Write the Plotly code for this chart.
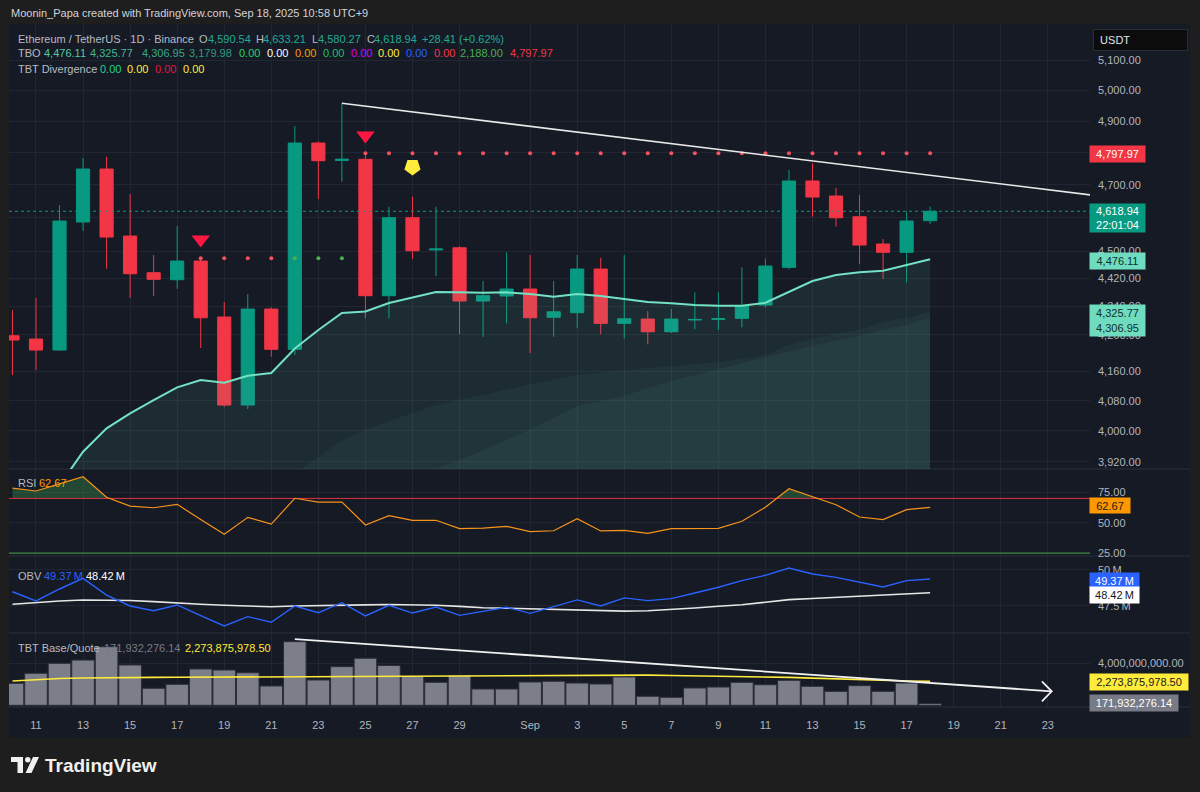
import math
import pandas as pd
import plotly.graph_objects as go
from plotly.subplots import make_subplots

# ---------------- data ----------------
dates = pd.date_range("2025-08-10", "2025-09-18", freq="D")

open_p = [4257.3, 4248.1, 4217.6, 4586.5, 4748.5, 4544.6, 4436.7, 4416.4, 4470.8, 4309.8,
          4068.4, 4332.4, 4219.6, 4830.1, 4775.5, 4778.8, 4370.4, 4599.4, 4503.5, 4509.9,
          4355.2, 4369.5, 4389.6, 4309.0, 4322.0, 4447.4, 4292.0, 4304.1, 4268.5, 4301.5,
          4303.4, 4306.1, 4343.8, 4452.4, 4711.4, 4665.3, 4602.4, 4520.9, 4496.4, 4590.54]
high_p = [4329.6, 4363.8, 4637.9, 4782.9, 4787.0, 4671.4, 4488.4, 4574.5, 4476.7, 4352.3,
          4375.2, 4337.3, 4884.2, 4836.0, 4957.4, 4792.3, 4632.7, 4663.1, 4632.7, 4514.9,
          4412.7, 4496.4, 4488.4, 4412.7, 4488.4, 4480.5, 4488.4, 4326.8, 4332.4, 4380.1,
          4380.1, 4452.4, 4478.7, 4745.4, 4766.3, 4690.7, 4668.3, 4535.7, 4617.6, 4633.21]
low_p = [4149.1, 4162.7, 4215.7, 4560.4, 4448.3, 4364.6, 4369.5, 4390.4, 4223.2, 4063.8,
         4057.7, 4199.2, 4203.8, 4656.1, 4709.2, 4306.1, 4306.1, 4476.7, 4427.1, 4261.2,
         4254.5, 4292.0, 4209.3, 4254.5, 4279.7, 4261.2, 4250.1, 4233.4, 4265.0, 4275.2,
         4273.2, 4280.8, 4337.3, 4446.6, 4602.4, 4572.4, 4462.0, 4418.4, 4408.9, 4580.27]
close_p = [4245.3, 4217.6, 4589.5, 4748.5, 4541.6, 4433.8, 4417.6, 4470.8, 4307.8, 4068.4,
           4332.4, 4219.6, 4830.1, 4774.4, 4779.0, 4370.4, 4599.4, 4501.1, 4506.1, 4355.2,
           4370.4, 4389.6, 4307.8, 4324.8, 4447.4, 4292.0, 4305.0, 4268.5, 4304.1, 4303.0,
           4305.0, 4341.8, 4456.2, 4711.4, 4662.2, 4599.4, 4517.9, 4496.4, 4589.5, 4618.94]

# TBO lines (start where they enter the visible range)
tbo_fast_dates = dates[2:]
tbo_fast = [3860.0, 3945.8, 4006.7, 4046.3, 4081.7, 4115.8, 4135.5, 4128.2, 4147.2, 4154.6,
            4221.8, 4273.2, 4321.1, 4325.4, 4349.5, 4365.7, 4381.0, 4380.1, 4379.0, 4380.1,
            4375.2, 4367.5, 4375.2, 4369.5, 4360.1, 4352.3, 4348.6, 4343.8, 4341.8, 4341.8,
            4350.3, 4381.8, 4412.7, 4430.0, 4437.9, 4442.5, 4459.1, 4476.11]
tbo_mid_dates = dates[12:]
tbo_mid = [3891.0, 3932.0, 3976.1, 4002.3, 4026.0, 4047.6, 4068.4, 4083.3, 4095.1, 4109.9,
           4124.8, 4137.0, 4149.1, 4155.9, 4162.7, 4168.2, 4173.1, 4179.1, 4184.6, 4193.4,
           4203.8, 4231.5, 4249.5, 4263.5, 4274.6, 4295.7, 4306.9, 4325.77]
tbo_slow_dates = dates[17:]
tbo_slow = [3878.5, 3901.5, 3925.8, 3949.3, 3976.8, 4003.8, 4034.0, 4065.7, 4079.1, 4092.5,
            4114.0, 4132.9, 4149.1, 4165.5, 4181.0, 4197.0, 4213.5, 4228.7, 4243.9, 4256.5,
            4273.2, 4287.2, 4306.95]
tbo_base = 3179.98

# levels / signals
res_level = 4797.97
res_dates = dates[15:]
sup_level = 4479.0
sup_red_dates = dates[8:12]
sup_green_dates = dates[12:15]
sig_down_dates = ["2025-08-18", "2025-08-25"]
sig_down_prices = [4534.0, 4854.0]
warn_dates = ["2025-08-27"]
warn_prices = [4755.0]
last_price = 4618.94

trend_dates = ["2025-08-24", "2025-09-26"]
trend_prices = [4957.4, 4658.3]

# RSI
rsi = [78.5, 76.1, 82.0, 87.8, 70.9, 63.7, 62.3, 65.1, 52.7, 40.5,
       54.4, 48.9, 70.1, 67.0, 67.0, 48.1, 55.8, 52.0, 52.0, 45.1,
       45.6, 47.0, 42.6, 43.4, 53.3, 43.2, 43.7, 41.3, 45.1, 45.1,
       45.4, 51.2, 62.7, 78.0, 71.7, 64.8, 54.7, 52.5, 60.7, 62.67]
rsi_upper = 70
rsi_lower = 25

# OBV (millions)
obv = [48.49, 47.85, 48.68, 49.42, 48.26, 47.50, 47.17, 47.57, 46.83, 46.11,
       46.76, 46.37, 47.50, 47.03, 47.73, 46.81, 47.55, 47.01, 47.43, 46.85,
       47.13, 47.41, 46.99, 47.48, 47.92, 47.50, 48.06, 47.87, 48.01, 48.40,
       48.80, 49.26, 49.63, 50.14, 49.72, 49.49, 49.15, 48.82, 49.26, 49.37]
obv_ma = [47.62, 47.76, 47.85, 47.92, 47.92, 47.88, 47.80, 47.69, 47.62, 47.55,
          47.50, 47.45, 47.50, 47.54, 47.57, 47.58, 47.60, 47.58, 47.55, 47.47,
          47.38, 47.35, 47.31, 47.25, 47.19, 47.14, 47.14, 47.17, 47.24, 47.36,
          47.48, 47.59, 47.76, 47.94, 48.02, 48.10, 48.19, 48.28, 48.35, 48.42]

# Volume (billions)
vol_bn = [2.10, 3.05, 4.00, 4.31, 5.58, 3.84, 1.62, 2.00, 3.46, 3.36,
          3.10, 1.84, 6.06, 2.41, 3.68, 4.48, 3.79, 2.76, 2.19, 2.86,
          1.55, 1.55, 2.22, 2.29, 2.12, 2.03, 2.70, 0.86, 0.76, 1.65,
          1.74, 2.19, 1.96, 2.38, 1.81, 1.33, 1.87, 1.33, 2.12, 0.1719]
vol_ma_bn = [2.32, 2.45, 2.55, 2.60, 2.64, 2.66, 2.66, 2.67, 2.68, 2.69,
             2.70, 2.70, 2.74, 2.76, 2.78, 2.80, 2.82, 2.83, 2.84, 2.85,
             2.86, 2.87, 2.88, 2.89, 2.90, 2.90, 2.89, 2.87, 2.84, 2.81,
             2.78, 2.76, 2.72, 2.66, 2.59, 2.51, 2.44, 2.37, 2.31, 2.274]
vtrend_dates = [pd.Timestamp("2025-08-22"), pd.Timestamp("2025-09-23 04:00")]
vtrend_vals = [6.31, 1.33]

xtick_dates = ["2025-08-11", "2025-08-13", "2025-08-15", "2025-08-17", "2025-08-19",
               "2025-08-21", "2025-08-23", "2025-08-25", "2025-08-27", "2025-08-29",
               "2025-09-01", "2025-09-03", "2025-09-05", "2025-09-07", "2025-09-09",
               "2025-09-11", "2025-09-13", "2025-09-15", "2025-09-17", "2025-09-19",
               "2025-09-21", "2025-09-23"]
xtick_labels = ["11", "13", "15", "17", "19", "21", "23", "25", "27", "29",
                "Sep", "3", "5", "7", "9", "11", "13", "15", "17", "19", "21", "23"]
price_ticks = [3920, 4000, 4080, 4160, 4260, 4340, 4420, 4500, 4600, 4700, 4800, 4900, 5000, 5100]
price_hidden = [4600, 4800]   # covered by the price labels in the reference

x_range = [pd.Timestamp("2025-08-09 20:28"), pd.Timestamp("2025-09-24 19:03")]

# ---------------- style ----------------
FONT = "Liberation Sans, Arial, sans-serif"
BG = "#161a25"
FRAME = "#1e1e1e"
GRID = "#222632"
SEP = "#2a2e39"
AX_TXT = "#b2b5be"
GREY = "#b8bbc3"
GREEN = "#089981"
RED = "#f23645"
TEAL_TXT = "#22ab94"

PL, PR, PT, PB = 9, 1090, 24, 707


def px(x):
    return (x - PL) / (PR - PL)


def py(y):
    return (PB - y) / (PB - PT)


fig = make_subplots(rows=4, cols=1, shared_xaxes=True, vertical_spacing=0,
                    row_heights=[445, 87, 77, 74])

# candles
fig.add_trace(go.Candlestick(
    x=dates, open=open_p, high=high_p, low=low_p, close=close_p,
    increasing=dict(line=dict(color=GREEN, width=1), fillcolor=GREEN),
    decreasing=dict(line=dict(color=RED, width=1), fillcolor=RED),
    whiskerwidth=0, hoverinfo="skip"), row=1, col=1)

# TBO filled areas (semi-transparent, over candles)
for xs, ys, fc in [(tbo_fast_dates, tbo_fast, "rgba(100,200,178,0.10)"),
                   (tbo_mid_dates, tbo_mid, "rgba(100,200,178,0.06)"),
                   (tbo_slow_dates, tbo_slow, "rgba(100,200,178,0.06)")]:
    fig.add_trace(go.Scatter(x=xs, y=[tbo_base] * len(ys), mode="lines",
                             line=dict(width=0), hoverinfo="skip"), row=1, col=1)
    fig.add_trace(go.Scatter(x=xs, y=ys, mode="lines", line=dict(width=0),
                             fill="tonexty", fillcolor=fc, hoverinfo="skip"), row=1, col=1)

fig.add_trace(go.Scatter(x=tbo_fast_dates, y=tbo_fast, mode="lines",
                         line=dict(color="#72e2c3", width=2), hoverinfo="skip"), row=1, col=1)

# current price dotted line
fig.add_trace(go.Scatter(x=x_range, y=[last_price, last_price], mode="lines",
                         line=dict(color=GREEN, width=1, dash="dot"), hoverinfo="skip"), row=1, col=1)

# level dots
fig.add_trace(go.Scatter(x=res_dates, y=[res_level] * len(res_dates), mode="markers",
                         marker=dict(color="#f7525f", size=4), hoverinfo="skip"), row=1, col=1)
fig.add_trace(go.Scatter(x=sup_red_dates, y=[sup_level] * len(sup_red_dates), mode="markers",
                         marker=dict(color="#f7525f", size=4), hoverinfo="skip"), row=1, col=1)
fig.add_trace(go.Scatter(x=sup_green_dates, y=[sup_level] * len(sup_green_dates), mode="markers",
                         marker=dict(color="#4caf50", size=4), hoverinfo="skip"), row=1, col=1)

# signals
fig.add_trace(go.Scatter(x=sig_down_dates, y=sig_down_prices, mode="markers",
                         marker=dict(symbol="triangle-down", color="#ff1744", size=16,
                                     line=dict(width=0)), hoverinfo="skip"), row=1, col=1)
fig.add_trace(go.Scatter(x=warn_dates, y=warn_prices, mode="markers",
                         marker=dict(symbol="pentagon", angle=180, color="#ffeb3b", size=17,
                                     line=dict(width=0)), hoverinfo="skip"), row=1, col=1)

# trend line
fig.add_trace(go.Scatter(x=trend_dates, y=trend_prices, mode="lines",
                         line=dict(color="#e8e8e8", width=1.6), hoverinfo="skip"), row=1, col=1)

# ---- RSI ----
def above(xs, ys, level):
    ox, oy = [], []
    t = [pd.Timestamp(v).value for v in xs]
    for i in range(len(ys)):
        if i > 0 and (ys[i - 1] - level) * (ys[i] - level) < 0:
            f = (level - ys[i - 1]) / (ys[i] - ys[i - 1])
            ox.append(pd.Timestamp(int(t[i - 1] + f * (t[i] - t[i - 1]))))
            oy.append(level)
        ox.append(xs[i])
        oy.append(max(ys[i], level))
    return ox, oy


ax_, ay_ = above(list(dates), rsi, rsi_upper)
fig.add_trace(go.Scatter(x=ax_, y=[rsi_upper] * len(ax_), mode="lines", line=dict(width=0),
                         hoverinfo="skip"), row=2, col=1)
fig.add_trace(go.Scatter(x=ax_, y=ay_, mode="lines", line=dict(width=0), fill="tonexty",
                         fillcolor="rgba(56,160,80,0.35)", hoverinfo="skip"), row=2, col=1)
fig.add_trace(go.Scatter(x=x_range, y=[rsi_upper] * 2, mode="lines",
                         line=dict(color="#e0303f", width=1), hoverinfo="skip"), row=2, col=1)
fig.add_trace(go.Scatter(x=x_range, y=[rsi_lower] * 2, mode="lines",
                         line=dict(color="#43a047", width=1), hoverinfo="skip"), row=2, col=1)
fig.add_trace(go.Scatter(x=dates, y=rsi, mode="lines",
                         line=dict(color="#f7931a", width=1.2), hoverinfo="skip"), row=2, col=1)

# ---- OBV ----
fig.add_trace(go.Scatter(x=dates, y=obv_ma, mode="lines",
                         line=dict(color="#e6e6e6", width=1.6), hoverinfo="skip"), row=3, col=1)
fig.add_trace(go.Scatter(x=dates, y=obv, mode="lines",
                         line=dict(color="#2962ff", width=1.4), hoverinfo="skip"), row=3, col=1)

# ---- Volume ----
fig.add_trace(go.Bar(x=dates, y=vol_bn, marker=dict(color="#7c7f8a",
                                                    line=dict(color="#2b2e38", width=1)),
                     hoverinfo="skip"), row=4, col=1)
fig.add_trace(go.Scatter(x=dates, y=vol_ma_bn, mode="lines",
                         line=dict(color="#ffeb3b", width=1.6), hoverinfo="skip"), row=4, col=1)
fig.add_trace(go.Scatter(x=vtrend_dates, y=vtrend_vals, mode="lines",
                         line=dict(color="#f0f0f0", width=1.8), hoverinfo="skip"), row=4, col=1)
tip_x, tip_y = vtrend_dates[1], vtrend_vals[1]
back = tip_x - pd.Timedelta(hours=10)
fig.add_trace(go.Scatter(x=[back, tip_x, back], y=[tip_y + 0.95, tip_y, tip_y - 0.95],
                         mode="lines", line=dict(color="#f0f0f0", width=1.8),
                         hoverinfo="skip"), row=4, col=1)

# ---------------- axes ----------------
fig.update_xaxes(range=x_range, tickvals=xtick_dates, ticktext=xtick_labels,
                 showgrid=True, gridcolor=GRID, gridwidth=1, zeroline=False,
                 showline=False, ticks="", rangeslider_visible=False,
                 tickfont=dict(family=FONT, size=11, color=AX_TXT))
for i in (1, 2, 3):
    fig.layout["xaxis" + ("" if i == 1 else str(i))].showticklabels = False
fig.update_xaxes(showticklabels=True, ticklabelstandoff=10, row=4, col=1)

common_y = dict(side="right", showgrid=True, gridcolor=GRID, gridwidth=1, zeroline=False,
                showline=False, ticks="", ticklabelstandoff=7,
                tickfont=dict(family=FONT, size=11, color=AX_TXT))
fig.update_yaxes(type="log", range=[math.log10(3901.5), math.log10(5221.7)],
                 tickvals=price_ticks,
                 ticktext=["" if v in price_hidden else f"{v:,.2f}" for v in price_ticks],
                 row=1, col=1, **common_y)
fig.update_yaxes(range=[22.6, 94.2], tickvals=[25, 50, 75],
                 ticktext=["25.00", "50.00", "75.00"], row=2, col=1, **common_y)
fig.update_yaxes(range=[45.625, 50.97], tickvals=[47.5, 50],
                 ticktext=["47.5\u2009M", "50\u2009M"], row=3, col=1, **common_y)
fig.update_yaxes(range=[-0.162, 6.886], tickvals=[4],
                 ticktext=["4,000,000,000.00"], row=4, col=1, **common_y)

# ---------------- frame shapes ----------------
shapes = []


def rect(x0, y0, x1, y1, color, layer="below"):
    shapes.append(dict(type="rect", xref="paper", yref="paper", x0=px(x0), x1=px(x1),
                       y0=py(y1), y1=py(y0), fillcolor=color, line=dict(width=0), layer=layer))


def hline(y, x0=PL, x1=1190, color=SEP):
    shapes.append(dict(type="line", xref="paper", yref="paper", x0=px(x0), x1=px(x1),
                       y0=py(y), y1=py(y), line=dict(color=color, width=1), layer="below"))


rect(0, 0, 1200, 24, FRAME)
rect(0, 24, 9, 738, FRAME)
rect(1190, 24, 1200, 738, FRAME)
rect(0, 738, 1200, 792, FRAME)
for yy in (469, 556, 633, 707):
    hline(yy)

# TradingView logo
rect(11, 757, 23, 762, "#f0f0f0", "above")
rect(17.5, 757, 23, 773, "#f0f0f0", "above")
shapes.append(dict(type="circle", xref="paper", yref="paper", x0=px(25), x1=px(30.5),
                   y0=py(762.5), y1=py(757), fillcolor="#f0f0f0", line=dict(width=0)))
shapes.append(dict(type="path", xref="paper", yref="paper",
                   path=f"M {px(25.5)},{py(773)} L {px(31.5)},{py(773)} L {px(39)},{py(757)} "
                        f"L {px(33)},{py(757)} Z",
                   fillcolor="#f0f0f0", line=dict(width=0)))

# ---------------- texts ----------------
ann = []


def txt(x, y, s, color, size=11, anchor="left"):
    ann.append(dict(xref="paper", yref="paper", x=px(x), y=py(y), text=s, showarrow=False,
                    xanchor=anchor, yanchor="middle", borderpad=0,
                    font=dict(family=FONT, size=size, color=color)))


def box(x0, x1, yc, h, s, bg, fg, align="center", border=None):
    d = dict(xref="paper", yref="paper", x=px(x0), y=py(yc), text=s, showarrow=False,
             xanchor="left", yanchor="middle", width=x1 - x0, height=h, bgcolor=bg,
             borderpad=0, align=align, font=dict(family=FONT, size=11, color=fg))
    if border:
        d.update(bordercolor=border, borderwidth=1)
    ann.append(d)


txt(9.6, 13, "Moonin_Papa created with TradingView.com, Sep 18, 2025 10:58 UTC+9", "#d1d4dc")

# legend row 1
txt(17, 39, "Ethereum / TetherUS · 1D · Binance", GREY)
for xl, lab, xv, val in [(198, "O", 206.5, "4,590.54"), (254.5, "H", 262, "4,633.21"),
                         (310.5, "L", 317, "4,580.27"), (365.5, "C", 372.5, "4,618.94")]:
    txt(xl, 39, lab, GREY)
    txt(xv, 39, val, TEAL_TXT)
txt(421, 39, "+28.41 (+0.62%)", TEAL_TXT)

# legend row 2
txt(17, 53.5, "TBO", GREY)
for xv, val, col in [(43, "4,476.11", "#4fc9a6"), (89, "4,325.77", "#3fb796"),
                     (141, "4,306.95", "#35a88a"), (188, "3,179.98", "#2e9c80"),
                     (238, "0.00", "#1ed760"), (266, "0.00", "#ffffff"),
                     (294, "0.00", "#ff9800"), (321.5, "0.00", "#1fbf6a"),
                     (350, "0.00", "#d500f9"), (377, "0.00", "#ffeb3b"),
                     (405, "0.00", "#2962ff"), (432.5, "0.00", "#f23645"),
                     (459, "2,188.00", "#4caf50"), (509, "4,797.97", "#f23645")]:
    txt(xv, 53.5, val, col)

# legend row 3
txt(17, 69, "TBT Divergence", GREY)
for xv, col in [(98.7, "#1fd38a"), (126.3, "#ffeb3b"), (153.8, "#e0193f"), (181.8, "#ffeb3b")]:
    txt(xv, 69, "0.00", col)

# pane legends
txt(17, 483, "RSI", GREY)
txt(38, 483, "62.67", "#ff9800")
txt(17, 576, "OBV", GREY)
txt(43.3, 576, "49.37\u2009M", "#2962ff")
txt(85, 576, "48.42\u2009M", "#ffffff")
txt(17, 648, "TBT Base/Quote", GREY)
txt(103.3, 648, "171,932,276.14", "#787b86")
txt(184.3, 648, "2,273,875,978.50", "#ffeb3b")

# right axis labels
box(1093, 1186, 40.5, 20, "\u00a0\u00a0USDT", "#0c0c0c", "#e0e3eb", align="left", border="#2a2e39")
box(1089, 1144, 154, 16, "4,797.97", "#f23645", "#ffffff")
box(1089, 1144, 218, 28, "4,618.94<br>22:01:04", "#089981", "#ffffff")
box(1089, 1144, 260.5, 16, "4,476.11", "#6fdcbf", "#10302a")
box(1089, 1144, 320.5, 31, "4,325.77<br>4,306.95", "#6fdcbf", "#10302a")
box(1089, 1129, 505.8, 15, "62.67", "#ff9800", "#1a1a1a")
box(1089, 1138, 580, 15, "49.37\u2009M", "#2962ff", "#ffffff")
box(1089, 1138, 595.3, 16, "48.42\u2009M", "#ffffff", "#131722")
box(1089, 1187, 682, 16, "2,273,875,978.50", "#ffeb3b", "#131722")
box(1089, 1177, 703, 16, "171,932,276.14", "#787b86", "#ffffff")

# footer brand
txt(44, 765, "<b>TradingView</b>", "#f0f0f0", size=19)

fig.update_layout(width=1200, height=792, margin=dict(l=PL, r=1200 - PR, t=PT, b=792 - PB),
                  paper_bgcolor=BG, plot_bgcolor="rgba(0,0,0,0)", showlegend=False,
                  hovermode=False, boxgap=0.2, bargap=0.04,
                  font=dict(family=FONT, size=11, color=AX_TXT),
                  shapes=shapes, annotations=ann)

fig.write_html("out.html")
